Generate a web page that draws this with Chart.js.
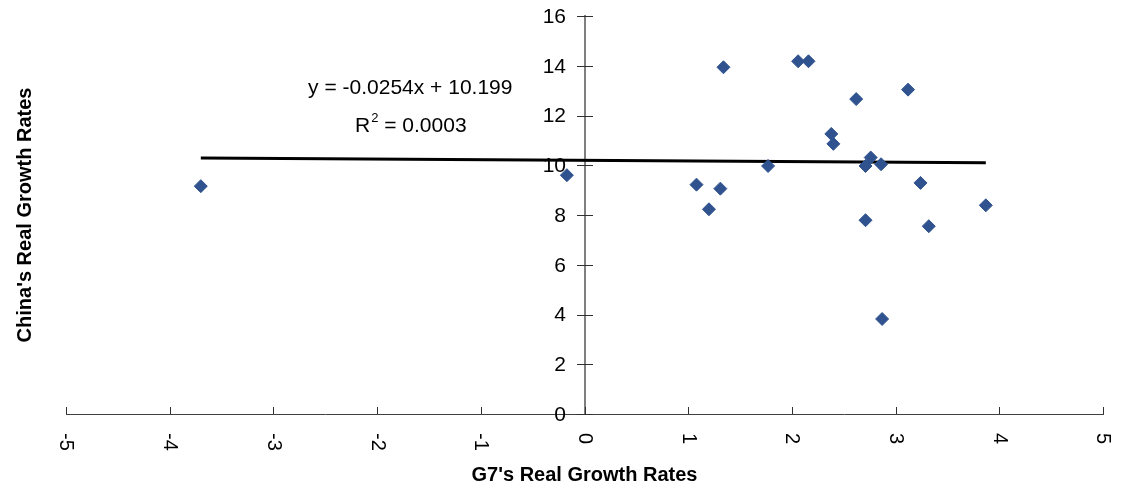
<!DOCTYPE html>
<html><head><meta charset="utf-8">
<script src="https://cdn.jsdelivr.net/npm/chart.js@4.4.1/dist/chart.umd.min.js"></script>
<style>html,body{margin:0;padding:0;background:#fff;} #wrap{width:1124px;height:492px;}</style>
</head><body><div id="wrap"><canvas id="c" width="1124" height="492"></canvas></div>
<script>
const g7Growth    = [-3.70, -0.17, 1.08, 1.20, 1.31, 1.34, 1.77, 2.06, 2.16, 2.38, 2.40, 2.62, 2.71, 2.71, 2.76, 2.86, 2.87, 3.12, 3.24, 3.32, 3.87];
const chinaGrowth = [ 9.16,  9.60, 9.22, 8.23, 9.06, 13.94, 9.97, 14.18, 14.18, 11.26, 10.86, 12.66, 9.97, 7.79, 10.31, 10.04, 3.82, 13.04, 9.29, 7.55, 8.39];
const trendX = [-3.70, 3.87];
const trendY = [10.29, 10.10];
const xTickValues = [-5, -4, -3, -2, -1, 0, 1, 2, 3, 4, 5];
const xTickLabels = ['-5', '-4', '-3', '-2', '-1', '0', '1', '2', '3', '4', '5'];
const yTickValues = [0, 2, 4, 6, 8, 10, 12, 14, 16];
const yTickLabels = ['0', '2', '4', '6', '8', '10', '12', '14', '16'];
const equationText = 'y = -0.0254x + 10.199';
const r2Parts = ['R', '2', ' = 0.0003'];
const xTitle = "G7's Real Growth Rates";
const yTitle = "China's Real Growth Rates";

const FONT = "'Liberation Sans', Arial, sans-serif";

const axisDecor = {
  id: 'axisDecor',
  afterDraw(chart) {
    const {ctx, scales: {x, y}} = chart;
    const ax = Math.round(x.getPixelForValue(0));
    const ay = Math.round(y.getPixelForValue(0));
    ctx.save();
    ctx.strokeStyle = '#303030';
    ctx.lineWidth = 1;
    ctx.beginPath();
    yTickValues.forEach(v => {
      const py = Math.round(y.getPixelForValue(v)) + 0.5;
      ctx.moveTo(ax - 8, py); ctx.lineTo(ax + 8, py);
    });
    xTickValues.forEach(v => {
      const px = Math.round(x.getPixelForValue(v)) + 0.5;
      ctx.moveTo(px, ay - 7); ctx.lineTo(px, ay);
    });
    ctx.stroke();

    ctx.fillStyle = '#000';
    ctx.font = '21px ' + FONT;
    ctx.textAlign = 'right';
    ctx.textBaseline = 'middle';
    yTickValues.forEach((v, i) => {
      ctx.fillText(yTickLabels[i], ax - 19, y.getPixelForValue(v) + 1);
    });

    ctx.font = '20px ' + FONT;
    ctx.textAlign = 'left';
    xTickValues.forEach((v, i) => {
      ctx.save();
      ctx.translate(x.getPixelForValue(v), ay + 19);
      ctx.rotate(Math.PI / 2);
      ctx.fillText(xTickLabels[i], 0, 0);
      ctx.restore();
    });

    // trendline equation
    const cx = x.getPixelForValue(-1.68);
    const ey = y.getPixelForValue(13.1);
    ctx.font = '21px ' + FONT;
    ctx.textAlign = 'center';
    ctx.fillText(equationText, cx, ey);
    const ry = y.getPixelForValue(11.58);
    ctx.textAlign = 'left';
    ctx.font = '21px ' + FONT;
    const w1 = ctx.measureText(r2Parts[0]).width;
    const w3 = ctx.measureText(r2Parts[2]).width;
    ctx.font = '13px ' + FONT;
    const w2 = ctx.measureText(r2Parts[1]).width;
    let sx = cx - (w1 + w2 + w3) / 2;
    ctx.font = '21px ' + FONT;
    ctx.fillText(r2Parts[0], sx, ry);
    ctx.font = '13px ' + FONT;
    ctx.fillText(r2Parts[1], sx + w1 + 1, ry - 8);
    ctx.font = '21px ' + FONT;
    ctx.fillText(r2Parts[2], sx + w1 + w2 + 1, ry);
    ctx.restore();
  }
};

new Chart(document.getElementById('c'), {
  type: 'scatter',
  data: {
    datasets: [
      {
        type: 'line',
        data: trendX.map((v, i) => ({x: v, y: trendY[i]})),
        borderColor: '#000',
        borderWidth: 3,
        pointRadius: 0,
        fill: false,
        order: 2
      },
      {
        data: g7Growth.map((v, i) => ({x: v, y: chinaGrowth[i]})),
        pointStyle: 'rectRot',
        pointRadius: 6.5,
        backgroundColor: '#30538F',
        borderColor: '#30538F',
        borderWidth: 1,
        order: 1
      }
    ]
  },
  options: {
    responsive: false,
    animation: false,
    devicePixelRatio: 1,
    layout: {padding: {left: 8, right: 21, top: 16, bottom: 5}},
    plugins: {
      legend: {display: false},
      tooltip: {enabled: false},
      title: {
        display: true, text: yTitle, position: 'left', fullSize: false,
        font: {family: FONT, size: 20, weight: 'bold'}, color: '#000',
        padding: {top: 5, bottom: 29}
      },
      subtitle: {
        display: true, text: xTitle, position: 'bottom', fullSize: false,
        font: {family: FONT, size: 20, weight: 'bold'}, color: '#000',
        padding: {top: 49, bottom: 0}
      }
    },
    scales: {
      x: {
        type: 'linear', min: -5, max: 5,
        position: {y: 0},
        ticks: {display: false, stepSize: 1},
        grid: {display: true, drawOnChartArea: false, drawTicks: false},
        border: {display: true, color: '#404040', width: 1}
      },
      y: {
        type: 'linear', min: 0, max: 16,
        position: {x: 0},
        ticks: {display: false, stepSize: 2},
        grid: {display: true, drawOnChartArea: false, drawTicks: false},
        border: {display: true, color: '#7f7f7f', width: 2}
      }
    }
  },
  plugins: [axisDecor]
});
</script>
</body></html>
